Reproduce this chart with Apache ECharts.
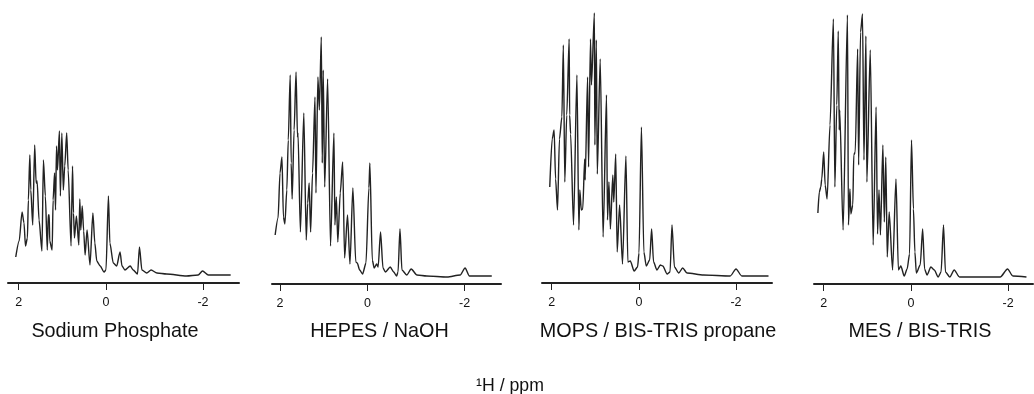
<!DOCTYPE html>
<html>
<head>
<meta charset="utf-8">
<style>html,body{margin:0;padding:0;background:#fff}#c{width:1034px;height:394px}</style>
<script src="https://cdn.jsdelivr.net/npm/echarts@6/dist/echarts.min.js"></script>
</head>
<body>
<div id="c"></div>
<script>
const panelNames = ['Sodium Phosphate', 'HEPES / NaOH', 'MOPS / BIS-TRIS propane', 'MES / BIS-TRIS'];
const xAxisTitle = '\u00B9H / ppm';
const tickValues = [1.8, 0, -2];

const sodiumPpm = [1.86,1.79,1.73,1.69,1.66,1.62,1.6,1.57,1.55,1.51,1.47,1.44,1.42,1.38,1.32,1.29,1.25,1.21,1.19,1.17,1.16,1.11,1.09,1.06,1.04,1.02,1.0,.96,.94,.91,.88,.85,.81,.78,.72,.69,.67,.65,.61,.56,.54,.52,.49,.46,.43,.39,.33,.27,.23,.19,.12,.04,0,-.05,-.08,-.15,-.22,-.29,-.33,-.39,-.5,-.56,-.65,-.69,-.74,-.84,-.93,-1.05,-1.25,-1.66,-1.9,-1.99,-2.11,-2.28,-2.57];
const sodiumIntensity = [26,42,71,60,37,45,83,128,93,58,138,100,102,63,32,123,87,33,68,68,42,33,83,110,73,137,113,152,87,150,93,117,150,113,37,117,70,45,67,38,84,53,77,52,28,53,18,70,40,22,17,11,13,87,40,20,17,31,17,13,17,13,9,36,13,10,13,10,9,7,8,12,8,8,8];

const hepesPpm = [1.9,1.84,1.8,1.76,1.73,1.7,1.66,1.63,1.59,1.57,1.55,1.51,1.47,1.44,1.43,1.38,1.31,1.26,1.23,1.2,1.17,1.13,1.08,1.06,1.02,.99,.95,.93,.91,.88,.82,.76,.69,.67,.64,.61,.56,.51,.47,.41,.36,.3,.24,.21,.16,.1,.03,-.03,-.05,-.1,-.14,-.19,-.22,-.27,-.32,-.37,-.47,-.54,-.6,-.63,-.67,-.71,-.81,-.9,-1.02,-1.22,-1.64,-1.91,-2.01,-2.1,-2.32,-2.56];
const hepesIntensity = [49,66,111,127,67,60,94,144,209,121,85,154,212,147,151,52,171,44,81,101,52,111,187,91,207,174,247,121,214,97,205,38,151,59,87,42,91,122,26,69,20,96,22,21,14,10,21,96,121,24,16,20,17,52,16,12,17,12,8,12,55,14,9,15,9,8,7,9,16,8,8,8];

const mopsPpm = [1.84,1.79,1.75,1.72,1.68,1.64,1.59,1.56,1.53,1.49,1.44,1.43,1.41,1.35,1.28,1.24,1.22,1.19,1.16,1.12,1.11,1.06,1.04,1.0,.98,.92,.91,.88,.86,.8,.74,.67,.65,.62,.59,.54,.52,.48,.45,.4,.34,.27,.23,.18,.1,.03,0,-.05,-.1,-.15,-.22,-.26,-.3,-.37,-.44,-.49,-.58,-.64,-.68,-.73,-.82,-.9,-.99,-1.33,-1.88,-2.0,-2.12,-2.43,-2.67];
const mopsIntensity = [96,144,153,104,73,144,166,238,101,168,244,168,149,58,208,53,93,73,74,124,103,206,116,244,198,270,138,243,109,224,46,188,63,101,54,108,81,129,31,78,19,127,21,22,12,16,30,156,31,17,23,54,21,13,18,17,9,11,58,16,10,15,10,8,7,14,7,7,7];

const mesPpm = [1.92,1.89,1.86,1.84,1.8,1.77,1.73,1.67,1.6,1.57,1.53,1.5,1.48,1.47,1.4,1.31,1.29,1.26,1.24,1.2,1.18,1.15,1.1,1.08,1.04,1.0,.97,.93,.91,.84,.78,.72,.69,.66,.63,.58,.55,.52,.49,.45,.38,.31,.26,.21,.14,.08,.03,-.01,-.05,-.08,-.11,-.19,-.24,-.28,-.33,-.41,-.48,-.56,-.62,-.67,-.71,-.8,-.89,-1.0,-1.29,-1.84,-1.99,-2.1,-2.38];
const mesIntensity = [71,92,97,105,132,99,85,159,265,97,179,253,154,174,54,269,59,95,70,79,129,132,235,119,252,270,124,248,102,234,39,177,50,94,49,139,62,127,27,72,14,105,14,18,8,15,30,144,75,32,11,19,55,15,9,17,14,7,12,59,12,7,14,7,7,7,15,8,7];

const panelPpm = [sodiumPpm, hepesPpm, mopsPpm, mesPpm];
const panelIntensity = [sodiumIntensity, hepesIntensity, mopsIntensity, mesIntensity];
const axisMax = [2.02, 1.965, 2.0, 2.0];
const axisMin = [-2.742, -2.75, -2.742, -2.515];
const gridLeft = [8, 272, 542, 814];
const gridWidth = [231, 229, 230, 219];
const gridHeight = [283, 284, 283, 284];
const labelCenter = [115, 379.5, 658, 920];

const chart = echarts.init(document.getElementById('c'), null, {renderer: 'canvas'});
const font = '"Liberation Sans", Arial, sans-serif';
chart.setOption({
  animation: false,
  backgroundColor: '#fff',
  title: panelNames.map((n, i) => ({
    text: n, left: labelCenter[i], top: 322, textAlign: 'center', padding: 0,
    textStyle: {fontFamily: font, fontSize: 19.8, fontWeight: 'normal', color: '#111'}
  })).concat([{
    text: xAxisTitle, left: 510, top: 377, textAlign: 'center', padding: 0,
    textStyle: {fontFamily: font, fontSize: 17.7, fontWeight: 'normal', color: '#111'}
  }]),
  grid: panelNames.map((n, i) => ({left: gridLeft[i], width: gridWidth[i], top: 0, height: gridHeight[i]})),
  xAxis: panelNames.map((n, i) => ({
    type: 'value', gridIndex: i, inverse: true, min: axisMin[i], max: axisMax[i],
    splitLine: {show: false},
    axisLine: {lineStyle: {color: '#222', width: 2}},
    axisTick: {length: 7, customValues: tickValues, lineStyle: {color: '#222', width: 1}},
    axisLabel: {
      customValues: tickValues, margin: 13, fontFamily: font, fontSize: 12.5, color: '#111',
      formatter: v => String(Math.round(v))
    }
  })),
  yAxis: panelNames.map((n, i) => ({
    type: 'value', gridIndex: i, min: 0, max: gridHeight[i], show: false, splitLine: {show: false}
  })),
  series: panelNames.map((n, i) => ({
    name: n, type: 'line', xAxisIndex: i, yAxisIndex: i,
    showSymbol: false, smooth: 0.25, smoothMonotone: 'x',
    lineStyle: {color: '#222', width: 1.4},
    data: panelPpm[i].map((x, k) => [x, panelIntensity[i][k]])
  }))
});
</script>
</body>
</html>
